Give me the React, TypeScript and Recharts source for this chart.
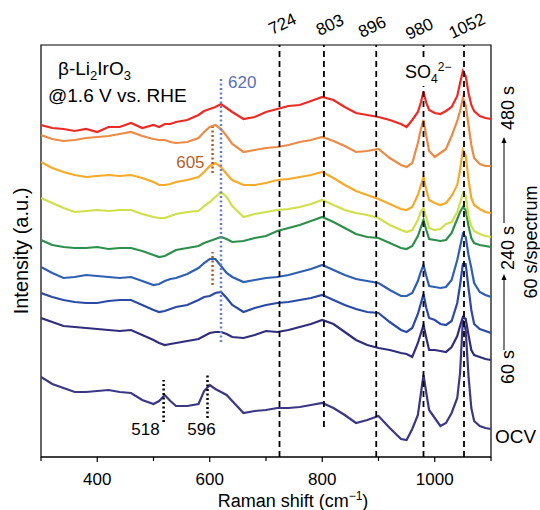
import {
  LineChart,
  Line,
  XAxis,
  YAxis,
  ReferenceLine,
  ReferenceArea,
  ReferenceDot,
} from "recharts";

const FONT = "'Liberation Sans', Arial, sans-serif";

// Raman shift (cm-1)
const shifts = [
  300, 320, 340, 360, 380, 400, 420, 440, 460, 480,
  500, 510, 520, 530, 540, 560, 580, 590, 600, 610,
  620, 630, 640, 660, 680, 700, 720, 740, 760, 780,
  800, 820, 840, 860, 880, 900, 920, 940, 950, 960,
  970, 975, 980, 985, 990, 1000, 1010, 1020, 1030, 1040,
  1045, 1050, 1055, 1060, 1065, 1070, 1080, 1090, 1100,
];

// stacked intensities (a.u.), offset per spectrum
const ocv = [
  71, 64, 60, 56, 56, 57, 58, 56, 55, 48,
  44, 47, 53, 47, 42, 42, 44, 57, 63, 59,
  56, 53, 47, 35, 37, 38, 40, 40, 41, 43,
  45, 40, 33, 25, 28, 32, 20, 9, 8, 19,
  33, 53, 73, 55, 38, 30, 22, 25, 35, 50,
  75, 128, 118, 72, 40, 27, 22, 20, 19,
];
const s60 = [
  130, 126, 122, 121, 120, 119, 118, 117, 118, 113,
  108, 105, 103, 104, 105, 107, 109, 112, 115, 116,
  116, 114, 111, 110, 113, 117, 116, 118, 121, 124,
  128, 124, 116, 108, 103, 100, 98, 95, 94, 91,
  105, 114, 123, 110, 98, 98, 97, 96, 101, 112,
  122, 131, 129, 113, 98, 93, 91, 89, 88,
];
const s120 = [
  155, 151, 148, 146, 145, 145, 147, 148, 148, 143,
  138, 136, 137, 139, 141, 143, 148, 151, 152, 155,
  156, 150, 143, 136, 140, 143, 145, 146, 148, 150,
  153, 148, 143, 139, 136, 135, 126, 118, 116, 120,
  134, 144, 154, 140, 130, 128, 124, 123, 127, 145,
  163, 184, 184, 160, 138, 124, 119, 117, 115,
];
const s180 = [
  181, 175, 170, 171, 173, 172, 171, 170, 171, 167,
  163, 164, 167, 169, 170, 174, 180, 185, 189, 189,
  182, 175, 171, 166, 168, 170, 171, 173, 176, 179,
  183, 178, 173, 169, 167, 165, 158, 152, 152, 155,
  167, 176, 183, 172, 162, 161, 160, 161, 168, 188,
  201, 214, 211, 193, 180, 165, 156, 153, 151,
];
const s240 = [
  208, 203, 201, 200, 200, 201, 199, 200, 200, 197,
  193, 191, 192, 195, 198, 200, 202, 205, 207, 209,
  211, 209, 206, 207, 210, 212, 217, 220, 223, 227,
  231, 226, 220, 214, 211, 210, 205, 200, 199, 202,
  212, 220, 228, 218, 209, 208, 207, 208, 215, 229,
  236, 241, 238, 222, 210, 205, 203, 202, 201,
];
const s300 = [
  250, 245, 240, 236, 237, 238, 237, 238, 238, 234,
  231, 230, 230, 232, 234, 236, 237, 242, 246, 251,
  256, 251, 242, 231, 234, 236, 238, 239, 241, 244,
  248, 243, 238, 235, 233, 230, 223, 218, 216, 218,
  228, 236, 240, 230, 220, 218, 219, 224, 226, 236,
  245, 255, 252, 232, 222, 217, 214, 212, 211,
];
const s360 = [
  286, 280, 276, 273, 271, 272, 273, 272, 273, 270,
  266, 263, 263, 264, 266, 268, 271, 276, 282, 285,
  281, 274, 268, 263, 263, 265, 268, 269, 271, 273,
  276, 270, 263, 257, 253, 249, 244, 239, 238, 241,
  253, 262, 271, 258, 248, 245, 243, 245, 252, 263,
  278, 298, 293, 268, 250, 243, 239, 236, 235,
];
const s420 = [
  313, 309, 307, 308, 310, 311, 312, 314, 316, 312,
  309, 308, 308, 306, 305, 306, 310, 316, 321, 323,
  319, 312, 304, 296, 298, 300, 301, 303, 306, 308,
  311, 307, 302, 296, 297, 299, 290, 283, 281, 285,
  305, 318, 328, 312, 297, 291, 295, 299, 312, 327,
  337, 350, 343, 323, 303, 290, 284, 282, 282,
];
const s480 = [
  323, 320, 319, 317, 319, 316, 321, 321, 325, 320,
  323, 321, 324, 324, 326, 328, 333, 337, 339, 341,
  344, 340, 336, 329, 331, 336, 339, 342, 343, 347,
  351, 348, 341, 335, 333, 331, 328, 324, 321, 328,
  336, 345, 356, 345, 338, 335, 334, 337, 341, 352,
  365, 377, 372, 355, 343, 337, 332, 330, 329,
];

const seriesKeys = ["ocv", "s60", "s120", "s180", "s240", "s300", "s360", "s420", "s480"];
const seriesColors = [
  "#3b3785", "#302e7c", "#2a4aa5", "#2f5fb3", "#2e8f4c",
  "#cfe04a", "#f7a928", "#ec8b45", "#ee2a24",
];

const bandPositions = [724, 803, 896, 980, 1052];
const xTicks = [300, 400, 500, 600, 700, 800, 900, 1000, 1100];

const data = shifts.map((x, i) => ({
  x,
  ocv: ocv[i],
  s60: s60[i],
  s120: s120[i],
  s180: s180[i],
  s240: s240[i],
  s300: s300[i],
  s360: s360[i],
  s420: s420[i],
  s480: s480[i],
}));

const Y_MIN = -9;
const Y_MAX = 403;

const XTick = (props: any) => {
  const { x, y, payload } = props;
  const major = payload.value % 200 === 0;
  return (
    <g>
      <line x1={x} x2={x} y1={y} y2={y + (major ? 5 : 4)} stroke="#000" strokeWidth={1.2} />
      {major && (
        <text x={x} y={y + 28} textAnchor="middle" fontSize={17} fill="#000" fontFamily={FONT}>
          {payload.value}
        </text>
      )}
    </g>
  );
};

const bandLabel = (text: string, dx: number, dy: number) => (p: any) => (
  <text
    x={p.cx + dx}
    y={p.cy + dy}
    textAnchor="middle"
    dominantBaseline="central"
    fontSize={17}
    fontFamily={FONT}
    fill="#000"
    transform={`rotate(-25, ${p.cx + dx}, ${p.cy + dy})`}
  >
    {text}
  </text>
);

const peakLabel = (text: string, dx: number, dy: number, anchor: string, color: string) => (p: any) => (
  <text x={p.cx + dx} y={p.cy + dy} textAnchor={anchor} fontSize={17} fontFamily={FONT} fill={color}>
    {text}
  </text>
);

const bandOffsets: Record<number, [number, number]> = {
  724: [3, -21],
  803: [6, -20],
  896: [-4, -18],
  980: [-4, -16],
  1052: [3, -19],
};

function Arrow({ x, y1, y2 }: { x: number; y1: number; y2: number }) {
  return (
    <g>
      <line x1={x} x2={x} y1={y1} y2={y2 + 5} stroke="#000" strokeWidth={1} />
      <path d={`M${x - 2.5},${y2 + 6} L${x},${y2} L${x + 2.5},${y2 + 6} Z`} fill="#000" />
    </g>
  );
}

export default function App() {
  return (
    <div style={{ position: "absolute", left: 0, top: 0, width: 540, height: 510 }}>
      <LineChart
        width={540}
        height={510}
        data={data}
        margin={{ top: 45, right: 49, bottom: 23, left: 41 }}
      >
        <XAxis
          dataKey="x"
          type="number"
          domain={[300, 1100]}
          ticks={xTicks}
          allowDataOverflow
          height={30}
          axisLine={{ stroke: "#000", strokeWidth: 1.2 }}
          tickLine={false}
          tickSize={0}
          tickMargin={0}
          tick={<XTick />}
        />
        <YAxis type="number" domain={[Y_MIN, Y_MAX]} hide width={0} allowDataOverflow />
        <ReferenceArea x1={300} x2={1100} y1={Y_MIN} y2={Y_MAX} fill="none" stroke="#000" strokeWidth={1.2} />
        {seriesKeys.map((k, i) => (
          <Line
            key={k}
            type="linear"
            dataKey={k}
            stroke={seriesColors[i]}
            strokeWidth={2.2}
            dot={false}
            isAnimationActive={false}
          />
        ))}
        {bandPositions.map((b) =>
          b === 803 ? (
            <ReferenceLine
              key={b}
              segment={[{ x: b, y: 21 }, { x: b, y: Y_MAX }]}
              stroke="#000"
              strokeWidth={1.8}
              strokeDasharray="6 4"
            />
          ) : (
            <ReferenceLine key={b} x={b} stroke="#000" strokeWidth={1.8} strokeDasharray="6 4" />
          )
        )}
        {bandPositions.map((b) => (
          <ReferenceDot
            key={`l${b}`}
            x={b}
            y={Y_MAX}
            r={0}
            shape={bandLabel(String(b), bandOffsets[b][0], bandOffsets[b][1])}
          />
        ))}
        <ReferenceLine segment={[{ x: 518, y: 26 }, { x: 518, y: 68 }]} stroke="#000" strokeWidth={2.5} strokeDasharray="2 2.5" />
        <ReferenceLine segment={[{ x: 596, y: 30 }, { x: 596, y: 73 }]} stroke="#000" strokeWidth={2.5} strokeDasharray="2 2.5" />
        <ReferenceLine segment={[{ x: 605, y: 275 }, { x: 605, y: 321 }]} stroke="#b0592a" strokeWidth={2.5} strokeDasharray="2 2.5" />
        <ReferenceLine segment={[{ x: 605, y: 163 }, { x: 605, y: 196 }]} stroke="#b0592a" strokeWidth={2.5} strokeDasharray="2 2.5" />
        <ReferenceLine segment={[{ x: 620, y: 106 }, { x: 620, y: 370 }]} stroke="#6a7fc4" strokeWidth={2.5} strokeDasharray="2 2.5" />
        <ReferenceDot x={620} y={370} r={0} shape={peakLabel("620", 7, 10, "start", "#5b6fb5")} />
        <ReferenceDot x={605} y={275} r={0} shape={peakLabel("605", -8, -5, "end", "#b4622f")} />
        <ReferenceDot x={518} y={26} r={0} shape={peakLabel("518", -4, 13, "end", "#000")} />
        <ReferenceDot x={596} y={30} r={0} shape={peakLabel("596", -6, 17, "middle", "#000")} />
      </LineChart>
      <svg
        width={540}
        height={510}
        style={{ position: "absolute", left: 0, top: 0, pointerEvents: "none" }}
        fontFamily={FONT}
      >
        <text x={58} y={75} fontSize={19}>
          β-Li<tspan dy={5} fontSize={13}>2</tspan>
          <tspan dy={-5}>IrO</tspan>
          <tspan dy={5} fontSize={13}>3</tspan>
        </text>
        <text x={48} y={102} fontSize={19}>@1.6 V vs. RHE</text>
        <rect x={403} y={60} width={50} height={26} fill="#fff" />
        <text x={405} y={78} fontSize={18}>
          SO<tspan dy={5} fontSize={12}>4</tspan>
          <tspan dy={-12} fontSize={12}>2−</tspan>
        </text>
        <text
          x={21}
          y={251}
          fontSize={20}
          textAnchor="middle"
          dominantBaseline="central"
          transform="rotate(-90, 21, 251)"
        >
          Intensity (a.u.)
        </text>
        <text x={293} y={507} fontSize={18} textAnchor="middle">
          Raman shift (cm<tspan dy={-7} fontSize={12}>−1</tspan>
          <tspan dy={7}>)</tspan>
        </text>
        <text x={508} y={108} fontSize={18} textAnchor="middle" dominantBaseline="central" transform="rotate(-90, 508, 108)">
          480 s
        </text>
        <Arrow x={504} y1={223} y2={137} />
        <text x={508} y={248} fontSize={18} textAnchor="middle" dominantBaseline="central" transform="rotate(-90, 508, 248)">
          240 s
        </text>
        <Arrow x={504} y1={350} y2={274} />
        <text x={508} y={367} fontSize={18} textAnchor="middle" dominantBaseline="central" transform="rotate(-90, 508, 367)">
          60 s
        </text>
        <text x={531} y={242} fontSize={18} textAnchor="middle" dominantBaseline="central" transform="rotate(-90, 531, 242)">
          60 s/spectrum
        </text>
        <text x={495} y={443} fontSize={19}>OCV</text>
      </svg>
    </div>
  );
}
